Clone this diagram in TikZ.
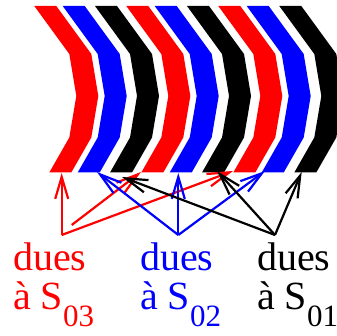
\documentclass[tikz,border=0pt]{standalone}
\usepackage{fontspec}
\setmainfont{Liberation Serif}
\newfontfamily\lblfont{Liberation Serif}
\usetikzlibrary{arrows.meta}
\definecolor{cred}{RGB}{255,0,0}
\definecolor{cblue}{RGB}{0,0,255}
\definecolor{cblack}{RGB}{0,0,0}
\begin{document}
\begin{tikzpicture}[x=1pt,y=-1pt,
  conn/.style={line width=2.2pt, -{Straight Barb[length=22pt,width=13pt]}},
  lbl/.style={anchor=north west, align=left, inner sep=0pt, font=\lblfont\fontsize{40}{39}\selectfont}]
\newcommand{\chev}[2]{\fill[#2] (#1,6) -- (#1+35,54) -- (#1+42,96) -- (#1+35,137.5) -- (#1+15,172.5) -- (#1+37,172.5) -- (#1+57,137.5) -- (#1+64,96) -- (#1+57,54) -- (#1+22,6) -- cycle;}
\newcommand{\sbs}[1]{\raisebox{-17pt}{\lblfont\fontsize{31}{31}\selectfont #1}}
\useasboundingbox (0,0) rectangle (337,336);
\clip (0,0) rectangle (337,336);
% chevrons
\chev{34.3}{cred}
\chev{62.7}{cblue}
\chev{95}{cblack}
\chev{126.3}{cred}
\chev{154.7}{cblue}
\chev{187}{cblack}
\chev{218.3}{cred}
\chev{246.7}{cblue}
\chev{279.3}{cblack}
% labels
\node[lbl, text=cred] (l3) at (13,243) {dues\\à S\sbs{03}};
\node[lbl, text=cblue] (l2) at (140,243) {dues\\à S\sbs{02}};
\node[lbl, text=cblack] (l1) at (257,243) {dues\\à S\sbs{01}};
% origins and targets
\coordinate (o3) at (61.7,235);
\coordinate (o3b) at (71.7,225);
\coordinate (o2) at (178.3,235);
\coordinate (o1) at (275,235);
\coordinate (r1) at (61.7,173);
\coordinate (r2) at (141,172);
\coordinate (r3) at (233,171);
\coordinate (b1) at (97,172);
\coordinate (b2) at (178.3,173);
\coordinate (b3) at (265,171);
\coordinate (k1) at (122,177);
\coordinate (k2) at (217,171);
\coordinate (k3) at (301.7,172);
% connectors
\draw[conn, cred] (o3) -- (r1);
\draw[conn, cred] (o3b) -- (r2);
\draw[conn, cred] (o3) -- (r3);
\draw[conn, cblue] (o2) -- (b1);
\draw[conn, cblue] (o2) -- (b2);
\draw[conn, cblue] (o2) -- (b3);
\draw[conn, cblack] (o1) -- (k1);
\draw[conn, cblack] (o1) -- (k2);
\draw[conn, cblack] (o1) -- (k3);
\end{tikzpicture}
\end{document}
